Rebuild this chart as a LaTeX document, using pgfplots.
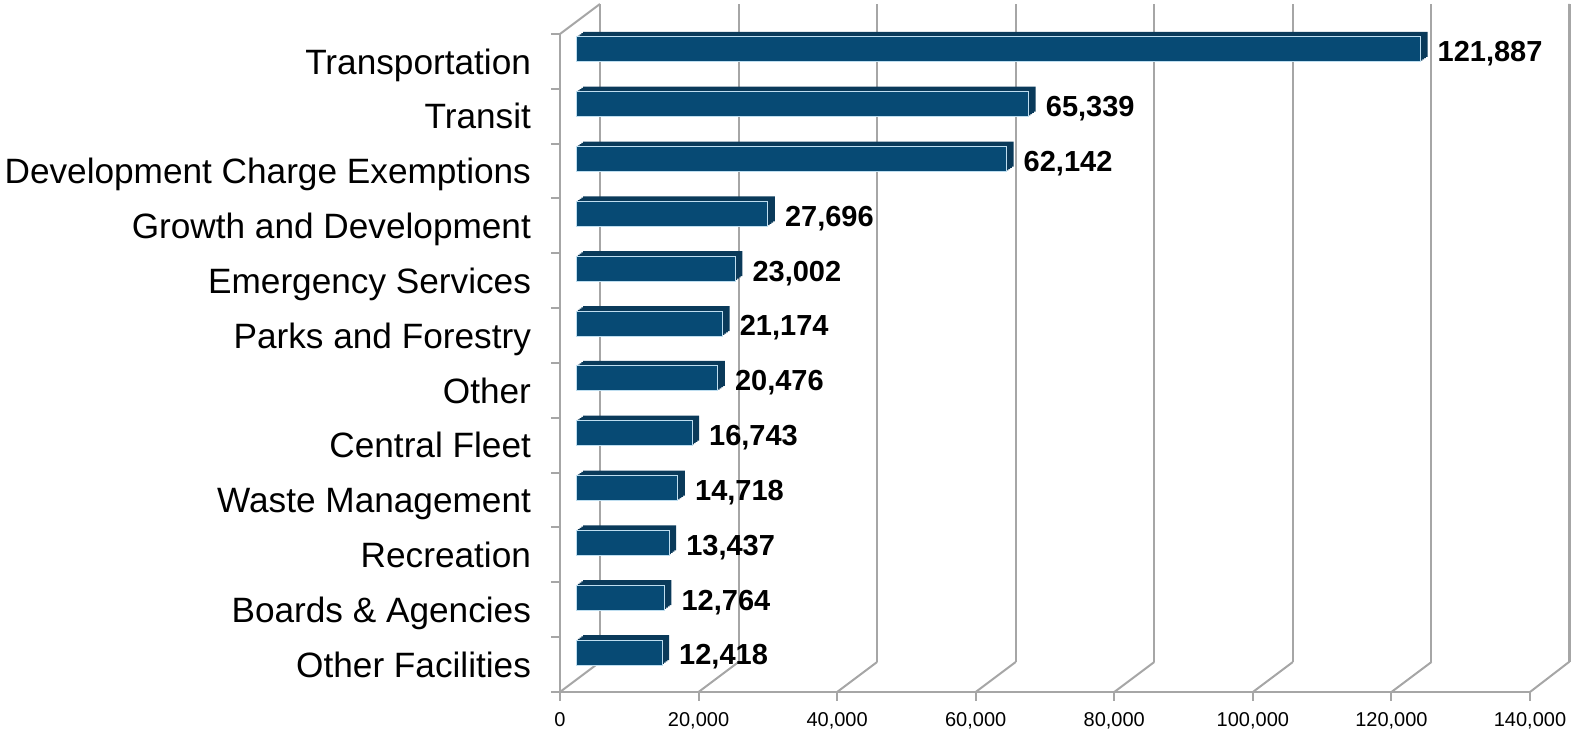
\documentclass[border=0pt]{standalone}
\usepackage{fontspec}
\setmainfont{Liberation Sans}
\usepackage{pgfplots}
\usepackage{pgfplotstable}
\pgfplotsset{compat=1.18}

\definecolor{barfront}{RGB}{7,74,116}
\definecolor{bardepth}{RGB}{10,58,90}
\definecolor{baredge}{RGB}{190,222,240}
\definecolor{gridgray}{RGB}{166,166,166}

% capital budget by program, bottom row first
\pgfplotstableread{
idx value
0  12418
1  12764
2  13437
3  14718
4  16743
5  20476
6  21174
7  23002
8  27696
9  62142
10 65339
11 121887
}\budget

\pgfplotsset{
  frame/.style={scale only axis, width=485pt, height=329pt,
    xmin=0, xmax=140000, ymin=-0.5, ymax=11.5, enlargelimits=false,
    scaled x ticks=false, at={(0,0)}, anchor=south west},
  bars/.style={frame, hide axis, clip=false, xbar, bar width=12.5pt, bar shift=0pt},
}

% one copy of the bars, shifted back, for the top and end faces
\newcommand\depthbars[2]{%
\begin{axis}[bars, xshift=#1, yshift=#2]
\addplot[fill=bardepth, draw=none] table[x=value, y=idx]{\budget};
\end{axis}}

\begin{document}
\begin{tikzpicture}
\useasboundingbox (-280pt,-19.5pt) rectangle (506.5pt,346pt);

% back wall gridlines
\begin{axis}[frame, xshift=20pt, yshift=15pt, clip=false,
    axis line style={draw=none}, major tick length=0pt,
    xtick={0,20000,40000,60000,80000,100000,120000,140000}, xticklabels={}, ytick=\empty,
    xmajorgrids, grid style={gridgray, line width=1pt}]
\end{axis}

% front frame, ticks and labels
\begin{axis}[frame, axis x line*=bottom, axis y line*=left, clip=false,
    axis line style={gridgray, line width=1pt},
    tick style={gridgray, line width=1pt}, tick align=outside,
    major tick length=4.5pt,
    xtick={0,20000,40000,60000,80000,100000,120000,140000},
    xticklabel style={font=\fontsize{10}{12}\selectfont, text=black, yshift=-2pt},
    /pgf/number format/.cd, fixed, 1000 sep={,}, assume math mode=true, /pgfplots/.cd,
    ytick={-0.5,0.5,...,11.5}, yticklabels={},
    extra y ticks={0,...,11},
    extra y tick labels={Other Facilities, Boards \& Agencies, Recreation,
      Waste Management, Central Fleet, Other, Parks and Forestry,
      Emergency Services, Growth and Development,
      Development Charge Exemptions, Transit, Transportation},
    extra y tick style={major tick length=0pt,
      yticklabel style={font=\fontsize{17.6}{20}\selectfont, text=black,
        text height=12.6pt, text depth=0pt, xshift=-11pt}}]
\pgfplotsinvokeforeach{0,20000,40000,60000,80000,100000,120000}{
  \draw[gridgray, line width=1pt] (axis cs:#1,-0.5) -- ++(20pt,15pt);
}
% right edge of the floor and back wall
\draw[gridgray, line width=1pt] (axis cs:140000,-0.5) -- ++(19.5pt,15pt) -- ++(0pt,329pt);
\draw[gridgray, line width=1pt] (axis cs:0,11.5) -- ++(20pt,15pt);
\end{axis}

% bar depth (top and end faces)
\depthbars{8.875pt}{6.625pt}
\depthbars{9.75pt}{7.25pt}
\depthbars{10.625pt}{7.875pt}
\depthbars{11.5pt}{8.5pt}

% bar front faces with value labels
\begin{axis}[bars, xshift=8pt, yshift=6pt,
    point meta=x,
    nodes near coords={\pgfmathprintnumber[fixed, precision=0, 1000 sep={,}, assume math mode=true]{\pgfplotspointmeta}},
    nodes near coords style={font=\bfseries\fontsize{14.5}{16}\selectfont,
      text=black, anchor=west, text height=10.4pt, text depth=0pt,
      xshift=5pt, yshift=-1pt}]
\addplot[fill=barfront, draw=baredge, line width=0.5pt] table[x=value, y=idx]{\budget};
\end{axis}
\end{tikzpicture}
\end{document}
